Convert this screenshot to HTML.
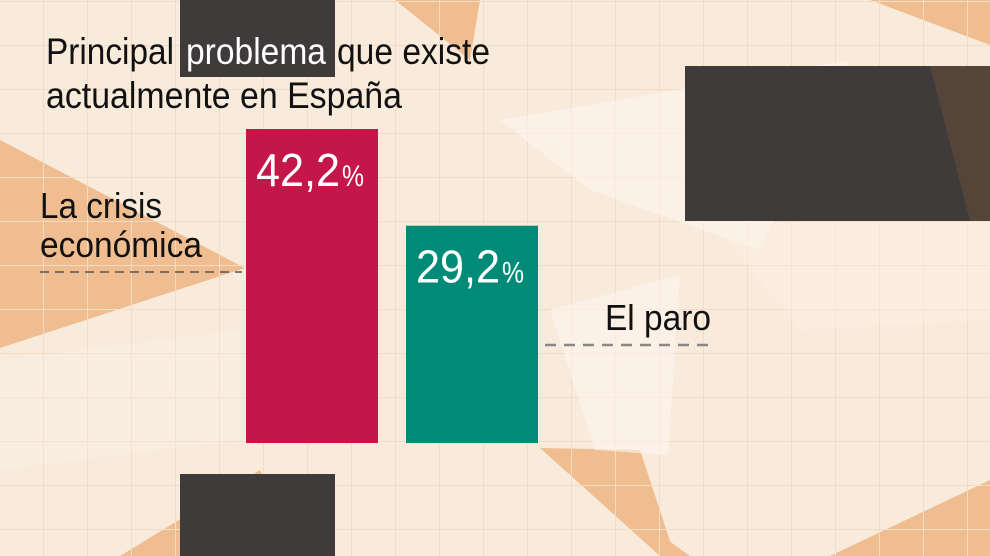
<!DOCTYPE html>
<html><head><meta charset="utf-8"><style>
body{margin:0;width:990px;height:556px;overflow:hidden;background:#f9ebdc;font-family:"Liberation Sans",sans-serif}
svg{display:block}
</style></head><body>
<svg width="990" height="556">
<defs>
<pattern id="g" width="44" height="44" patternUnits="userSpaceOnUse" x="0" y="2">
<path d="M44 0V44M0 44H44" stroke="#f2dcc6" stroke-width="2" fill="none"/>
</pattern>
<pattern id="go" width="44" height="44" patternUnits="userSpaceOnUse" x="0" y="2">
<rect width="44" height="44" fill="#efbd8f"/>
<path d="M44 0V44M0 44H44" stroke="#e3a06a" stroke-width="2" fill="none"/>
</pattern>
</defs>
<rect width="990" height="556" fill="#f9ebdc"/>
<g fill="url(#go)">
<polygon points="0,140 245,268 0,348"/>
<polygon points="395,0 480,0 470,60"/>
<polygon points="870,0 990,0 990,45"/>
<polygon points="540,448 690,556 660,556"/>
<polygon points="540,448 640,450 675,556"/>
<polygon points="830,556 990,480 990,556"/>
<polygon points="120,556 260,470 300,556"/>
</g>
<rect width="990" height="556" fill="url(#g)"/>
<g fill="#fdf6ee" opacity="0.6">
<polygon points="500,120 850,60 760,250 590,190"/>
<polygon points="550,310 680,275 668,455 595,450"/>
<polygon points="0,360 240,330 240,440 0,470" opacity="0.4"/>
<polygon points="720,230 990,200 990,320 800,330" opacity="0.5"/>
</g>
<g fill="#3e3b3a">
<rect x="180" y="0" width="155" height="77"/>
<rect x="180" y="474" width="155" height="82"/>
<rect x="685" y="66" width="305" height="155"/>
</g>
<polygon points="930,66 990,66 990,221 970,221" fill="#6b4d3a" opacity="0.5"/>
<g font-size="37" fill="#111">
<text x="46" y="64" textLength="128" lengthAdjust="spacingAndGlyphs">Principal</text>
<text x="186" y="64" textLength="140" lengthAdjust="spacingAndGlyphs" fill="#fff">problema</text>
<text x="337" y="64" textLength="153" lengthAdjust="spacingAndGlyphs">que existe</text>
<text x="46" y="108" textLength="356" lengthAdjust="spacingAndGlyphs">actualmente en España</text>
</g>
<g id="bars"></g>
<g font-size="36" fill="#111">
<text x="40" y="218" textLength="122" lengthAdjust="spacingAndGlyphs">La crisis</text>
<text x="40" y="257" textLength="162" lengthAdjust="spacingAndGlyphs">económica</text>
<line x1="40" y1="272" x2="242" y2="272" stroke="#555" stroke-width="1.5" stroke-dasharray="9,6"/>
<text x="605" y="330" textLength="106" lengthAdjust="spacingAndGlyphs">El paro</text>
<line x1="545" y1="345" x2="710" y2="345" stroke="#888" stroke-width="2.5" stroke-dasharray="11,8"/>
</g>
</svg>
<script>
const categories=["La crisis económica","El paro"];
const values=[42.2,29.2];
const valueLabels=["42,2","29,2"];
const colors=["#c41648","#008b78"];
const base=443, scale=314/42.2, x0=246, bw=132, gap=160;
function y(v){return base-v*scale;}
function xb(i){return x0+i*gap;}
const g=document.getElementById('bars');
const ns="http://www.w3.org/2000/svg";
values.forEach((v,i)=>{
 const r=document.createElementNS(ns,'rect');
 
 
 r.setAttribute('x',xb(i));r.setAttribute('y',y(v));
 r.setAttribute('width',bw);r.setAttribute('height',base-y(v));
 r.setAttribute('fill',colors[i]);g.appendChild(r);
 const t=document.createElementNS(ns,'text');
 
 
 t.setAttribute('x',xb(i)+10);t.setAttribute('y',y(v)+57);
 t.setAttribute('fill','#fff');t.setAttribute('font-size','46');
 t.setAttribute('textLength','84');t.setAttribute('lengthAdjust','spacingAndGlyphs');
 t.textContent=valueLabels[i];
 g.appendChild(t);
 const p=document.createElementNS(ns,'text');
 
 
 p.setAttribute('x',xb(i)+96);p.setAttribute('y',y(v)+57);
 p.setAttribute('fill','#fff');p.setAttribute('font-size','30');
 p.setAttribute('textLength','22');p.setAttribute('lengthAdjust','spacingAndGlyphs');
 p.textContent='%';
 g.appendChild(p);
});
</script>
</body></html>
